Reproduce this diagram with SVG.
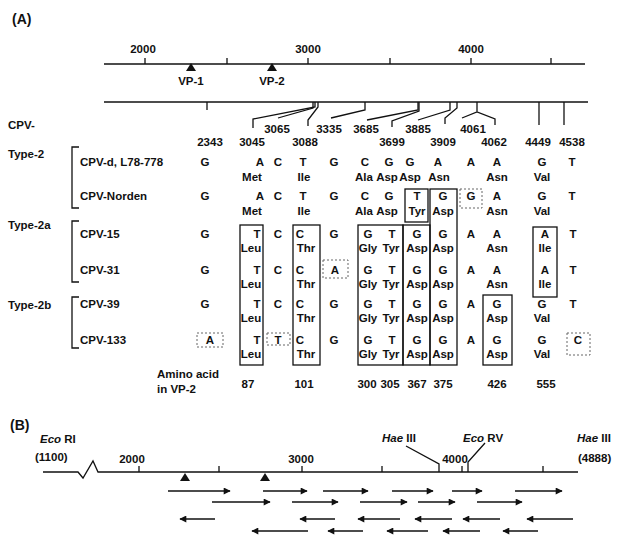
<svg xmlns="http://www.w3.org/2000/svg" width="622" height="537" viewBox="0 0 622 537">
<defs>
<style>
.t{font-family:"Liberation Sans",Arial,Helvetica,sans-serif;font-size:11.5px;font-weight:bold;fill:#111}
.c{text-anchor:middle}
.b{font-weight:bold;font-size:14px}
.i{font-style:italic}
.ln{stroke:#111;stroke-width:1.3;fill:none}
.box{stroke:#111;stroke-width:1.3;fill:none}
.dbox{stroke:#666;stroke-width:1;stroke-dasharray:2 2;fill:none}
.ar{stroke:#111;stroke-width:1.5;fill:none;marker-end:url(#ah)}
</style>
<marker id="ah" viewBox="0 0 10 10" refX="9" refY="5" markerWidth="8" markerHeight="7" markerUnits="userSpaceOnUse" orient="auto">
<path d="M0,0 L10,5 L0,10 z" fill="#111"/>
</marker>
</defs>
<rect width="622" height="537" fill="#fff"/>

<g id="panelA-label"><text class="t b" x="12" y="24">(A)</text></g>

<g id="genome-ruler">
<line class="ln" x1="104" y1="64" x2="585" y2="64"/>
<path class="ln" d="M145,58V64M227,58V64M308,58V64M390,58V64M471,58V64M551,58V64"/>
<text class="t c" x="143" y="53">2000</text>
<text class="t c" x="308" y="53">3000</text>
<text class="t c" x="471" y="53">4000</text>
<polygon points="191,63 186,71 196,71" fill="#111"/>
<polygon points="272,63 267,71 277,71" fill="#111"/>
<text class="t c" x="191" y="85">VP-1</text>
<text class="t c" x="272" y="85">VP-2</text>
</g>

<g id="connectors">
<line class="ln" x1="104" y1="102" x2="588" y2="102"/>
<path class="ln" d="M207,102V110"/>
<path class="ln" d="M315,102V107L253,119V128"/>
<path class="ln" d="M313,102V108L278,118"/>
<path class="ln" d="M318,102V107L308,120V126"/>
<path class="ln" d="M365,102V110L331,118"/>
<path class="ln" d="M418,102V110L367,120"/>
<path class="ln" d="M419,102V111L392,121V127" />
<path class="ln" d="M450,102V110L418,120"/>
<path class="ln" d="M457,102V108L445,118V124"/>
<path class="ln" d="M462,118L477,112L495,119V125M477,102V112"/>
<path class="ln" d="M539,102V125"/>
<path class="ln" d="M564,102V125"/>
</g>

<g id="positions">
<text class="t" x="8" y="129">CPV-</text>
<text class="t c" x="277" y="133">3065</text>
<text class="t c" x="329" y="133">3335</text>
<text class="t c" x="366" y="133">3685</text>
<text class="t c" x="418" y="133">3885</text>
<text class="t c" x="473" y="133">4061</text>
<text class="t c" x="210" y="146">2343</text>
<text class="t c" x="252" y="146">3045</text>
<text class="t c" x="305" y="146">3088</text>
<text class="t c" x="392" y="146">3699</text>
<text class="t c" x="443" y="146">3909</text>
<text class="t c" x="494" y="146">4062</text>
<text class="t c" x="538" y="146">4449</text>
<text class="t c" x="572" y="146">4538</text>
</g>

<g id="groups">
<text class="t" x="8" y="158">Type-2</text>
<path class="ln" d="M79,147H72V208H79"/>
<text class="t" x="8" y="229">Type-2a</text>
<path class="ln" d="M79,221H72V282H79"/>
<text class="t" x="8" y="309">Type-2b</text>
<path class="ln" d="M79,297H72V348H79"/>
</g>

<g id="boxes">
<rect class="box" x="240" y="225" width="23" height="140"/>
<rect class="box" x="293" y="225" width="27" height="140"/>
<rect class="box" x="358" y="225" width="45" height="140"/>
<rect class="box" x="403" y="225" width="27" height="140"/>
<rect class="box" x="430" y="189" width="27" height="176"/>
<rect class="box" x="405" y="189" width="23" height="33"/>
<rect class="box" x="533" y="227" width="24" height="70"/>
<rect class="box" x="483" y="295" width="29" height="70"/>
<rect class="dbox" x="460" y="189" width="22" height="19"/>
<rect class="dbox" x="323" y="260" width="25" height="18"/>
<rect class="dbox" x="197" y="333" width="26" height="14"/>
<rect class="dbox" x="267" y="333" width="23" height="12"/>
<rect class="dbox" x="567" y="333" width="23" height="22"/>
</g>

<g id="row-cpv-d">
<text class="t" x="80" y="166">CPV-d, L78-778</text>
<g class="t c">
<text x="205" y="166">G</text><text x="260" y="166">A</text><text x="278" y="166">C</text><text x="303" y="166">T</text><text x="334" y="166">G</text><text x="365" y="166">C</text><text x="389" y="166">G</text><text x="410" y="166">G</text><text x="438" y="166">A</text><text x="471" y="166">A</text><text x="497" y="166">A</text><text x="542" y="166">G</text><text x="572" y="166">T</text>
<text x="252" y="181">Met</text><text x="304" y="181">Ile</text><text x="364" y="181">Ala</text><text x="387" y="181">Asp</text><text x="410" y="181">Asp</text><text x="439" y="181">Asn</text><text x="497" y="181">Asn</text><text x="542" y="181">Val</text>
</g>
</g>

<g id="row-cpv-norden">
<text class="t" x="80" y="200">CPV-Norden</text>
<g class="t c">
<text x="205" y="200">G</text><text x="260" y="200">A</text><text x="278" y="200">C</text><text x="303" y="200">T</text><text x="334" y="200">G</text><text x="365" y="200">C</text><text x="389" y="200">G</text><text x="417" y="200">T</text><text x="443" y="200">G</text><text x="471" y="200">G</text><text x="497" y="200">A</text><text x="542" y="200">G</text><text x="572" y="200">T</text>
<text x="252" y="215">Met</text><text x="304" y="215">Ile</text><text x="364" y="215">Ala</text><text x="387" y="215">Asp</text><text x="417" y="215">Tyr</text><text x="443" y="215">Asp</text><text x="497" y="215">Asn</text><text x="542" y="215">Val</text>
</g>
</g>

<g id="row-cpv-15">
<text class="t" x="80" y="238">CPV-15</text>
<g class="t c">
<text x="205" y="238">G</text><text x="257" y="238">T</text><text x="278" y="238">C</text><text x="300" y="238">C</text><text x="334" y="238">G</text><text x="368" y="238">G</text><text x="392" y="238">T</text><text x="417" y="238">G</text><text x="443" y="238">G</text><text x="471" y="238">A</text><text x="497" y="238">A</text><text x="545" y="238">A</text><text x="573" y="238">T</text>
<text x="251" y="252">Leu</text><text x="306" y="252">Thr</text><text x="368" y="252">Gly</text><text x="391" y="252">Tyr</text><text x="417" y="252">Asp</text><text x="443" y="252">Asp</text><text x="497" y="252">Asn</text><text x="545" y="252">Ile</text>
</g>
</g>

<g id="row-cpv-31">
<text class="t" x="80" y="274">CPV-31</text>
<g class="t c">
<text x="205" y="274">G</text><text x="257" y="274">T</text><text x="278" y="274">C</text><text x="300" y="274">C</text><text x="335" y="274">A</text><text x="368" y="274">G</text><text x="392" y="274">T</text><text x="417" y="274">G</text><text x="443" y="274">G</text><text x="471" y="274">A</text><text x="497" y="274">A</text><text x="545" y="274">A</text><text x="573" y="274">T</text>
<text x="251" y="288">Leu</text><text x="306" y="288">Thr</text><text x="368" y="288">Gly</text><text x="391" y="288">Tyr</text><text x="417" y="288">Asp</text><text x="443" y="288">Asp</text><text x="497" y="288">Asn</text><text x="545" y="288">Ile</text>
</g>
</g>

<g id="row-cpv-39">
<text class="t" x="80" y="308">CPV-39</text>
<g class="t c">
<text x="205" y="308">G</text><text x="257" y="308">T</text><text x="278" y="308">C</text><text x="300" y="308">C</text><text x="334" y="308">G</text><text x="368" y="308">G</text><text x="392" y="308">T</text><text x="417" y="308">G</text><text x="443" y="308">G</text><text x="471" y="308">A</text><text x="497" y="308">G</text><text x="542" y="308">G</text><text x="573" y="308">T</text>
<text x="251" y="322">Leu</text><text x="306" y="322">Thr</text><text x="368" y="322">Gly</text><text x="391" y="322">Tyr</text><text x="417" y="322">Asp</text><text x="443" y="322">Asp</text><text x="497" y="322">Asp</text><text x="542" y="322">Val</text>
</g>
</g>

<g id="row-cpv-133">
<text class="t" x="80" y="344">CPV-133</text>
<g class="t c">
<text x="210" y="344">A</text><text x="257" y="344">T</text><text x="278" y="344">T</text><text x="300" y="344">C</text><text x="334" y="344">G</text><text x="368" y="344">G</text><text x="392" y="344">T</text><text x="417" y="344">G</text><text x="443" y="344">G</text><text x="471" y="344">A</text><text x="497" y="344">G</text><text x="542" y="344">G</text><text x="578" y="344">C</text>
<text x="251" y="358">Leu</text><text x="306" y="358">Thr</text><text x="368" y="358">Gly</text><text x="391" y="358">Tyr</text><text x="417" y="358">Asp</text><text x="443" y="358">Asp</text><text x="497" y="358">Asp</text><text x="542" y="358">Val</text>
</g>
</g>

<g id="aa-positions">
<text class="t" x="157" y="378">Amino acid</text>
<text class="t" x="157" y="393">in VP-2</text>
<g class="t c">
<text x="248" y="388">87</text><text x="304" y="388">101</text><text x="367" y="388">300</text><text x="390" y="388">305</text><text x="417" y="388">367</text><text x="443" y="388">375</text><text x="497" y="388">426</text><text x="546" y="388">555</text>
</g>
</g>

<g id="panelB-label"><text class="t b" x="10" y="430">(B)</text></g>

<g id="clone-map">
<path class="ln" d="M43,472H78L83,478L93,461L98,472H578"/>
<path class="ln" d="M139,466V472M219,466V472M302,466V472M382,466V472M462,466V472M543,466V472"/>
<text class="t c" x="132" y="463">2000</text>
<text class="t c" x="301" y="463">3000</text>
<text class="t c" x="455" y="463">4000</text>
<polygon points="185,473 180,481 190,481" fill="#111"/>
<polygon points="265,473 260,481 270,481" fill="#111"/>
<text class="t" x="40" y="443"><tspan class="i">Eco</tspan> RI</text>
<text class="t" x="35" y="461">(1100)</text>
<text class="t" x="382" y="442"><tspan class="i">Hae</tspan> III</text>
<path class="ln" d="M406,446L439,464V472"/>
<text class="t" x="463" y="442"><tspan class="i">Eco</tspan> RV</text>
<path class="ln" d="M485,443L468,462V472"/>
<text class="t" x="577" y="442"><tspan class="i">Hae</tspan> III</text>
<text class="t" x="578" y="462">(4888)</text>
</g>

<g id="clone-arrows">
<line class="ar" x1="168" y1="491" x2="230" y2="491"/>
<line class="ar" x1="263" y1="491" x2="307" y2="491"/>
<line class="ar" x1="323" y1="491" x2="368" y2="491"/>
<line class="ar" x1="392" y1="491" x2="433" y2="491"/>
<line class="ar" x1="452" y1="491" x2="482" y2="491"/>
<line class="ar" x1="515" y1="491" x2="562" y2="491"/>
<line class="ar" x1="212" y1="502" x2="270" y2="502"/>
<line class="ar" x1="292" y1="502" x2="338" y2="502"/>
<line class="ar" x1="360" y1="502" x2="407" y2="502"/>
<line class="ar" x1="418" y1="502" x2="455" y2="502"/>
<line class="ar" x1="477" y1="502" x2="522" y2="502"/>
<line class="ar" x1="215" y1="519" x2="180" y2="519"/>
<line class="ar" x1="335" y1="519" x2="300" y2="519"/>
<line class="ar" x1="400" y1="519" x2="358" y2="519"/>
<line class="ar" x1="452" y1="519" x2="415" y2="519"/>
<line class="ar" x1="500" y1="519" x2="463" y2="519"/>
<line class="ar" x1="573" y1="519" x2="527" y2="519"/>
<line class="ar" x1="308" y1="531" x2="252" y2="531"/>
<line class="ar" x1="363" y1="531" x2="328" y2="531"/>
<line class="ar" x1="428" y1="531" x2="387" y2="531"/>
<line class="ar" x1="480" y1="531" x2="443" y2="531"/>
<line class="ar" x1="538" y1="531" x2="503" y2="531"/>
</g>
</svg>
